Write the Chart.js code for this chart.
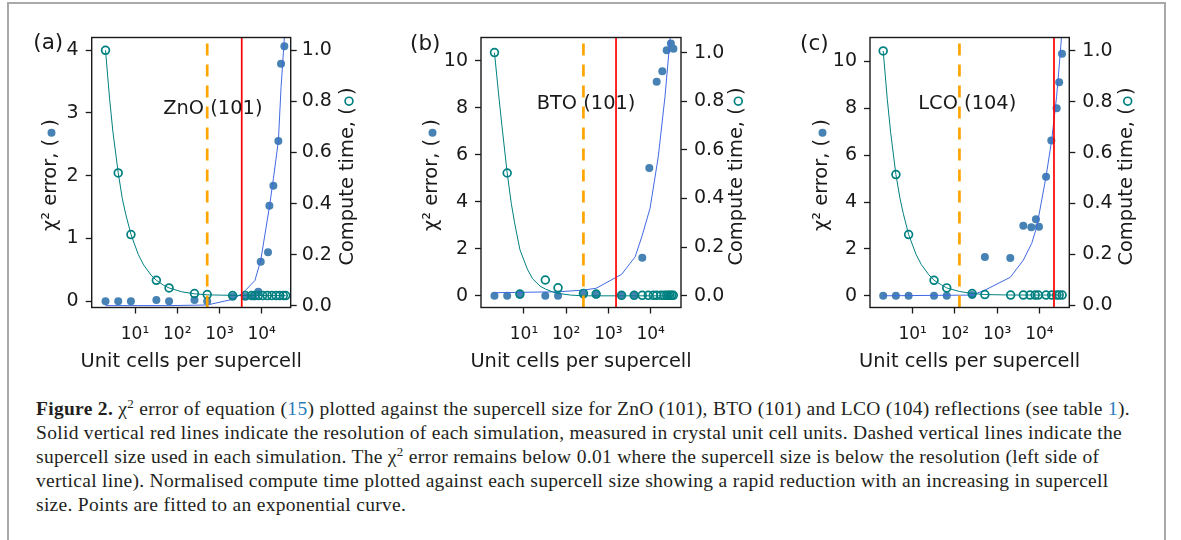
<!DOCTYPE html>
<html>
<head>
<meta charset="utf-8">
<script src="https://cdn.jsdelivr.net/npm/chart.js"></script>
<style>
  body { margin: 0; background: #fff; }
  #page { position: relative; width: 1181px; height: 540px; overflow: hidden; background: #fff; }
  #box { position: absolute; left: 7px; top: 2px; width: 1155px; height: 600px; border: 2px solid #a9a9a9; }
  canvas { position: absolute; top: 0; }
  #caption { position: absolute; left: 36px; top: 397px; font-family: 'Liberation Serif', serif; font-size: 19.5px; letter-spacing: 0.3px; line-height: 24px; color: #231f20; white-space: nowrap; }
  #caption sup { font-size: 13px; line-height: 0; }
  #caption .ref { color: #2b7bbd; }
</style>
</head>
<body>
<div id="page">
  <div id="box"></div>
  <canvas id="chartA"></canvas>
  <canvas id="chartB"></canvas>
  <canvas id="chartC"></canvas>
  <div id="caption">
    <b>Figure 2.</b> χ<sup>2</sup> error of equation (<span class="ref">15</span>) plotted against the supercell size for ZnO (101), BTO (101) and LCO (104) reflections (see table <span class="ref">1</span>).<br>
    Solid vertical red lines indicate the resolution of each simulation, measured in crystal unit cell units. Dashed vertical lines indicate the<br>
    supercell size used in each simulation. The χ<sup>2</sup> error remains below 0.01 where the supercell size is below the resolution (left side of<br>
    vertical line). Normalised compute time plotted against each supercell size showing a rapid reduction with an increasing in supercell<br>
    size. Points are fitted to an exponential curve.
  </div>
</div>
<script>
// axis ticks
const xTicks = [10, 100, 1000, 10000];
const xTickLabels = ['10¹', '10²', '10³', '10⁴'];
const timeTicks = [0, 0.2, 0.4, 0.6, 0.8, 1.0];
const chiTicksA = [0, 1, 2, 3, 4];
const chiTicksBC = [0, 2, 4, 6, 8, 10];

// (a) ZnO (101)
const chiSizesA = [2, 4, 8, 32, 64, 256, 512, 2048, 4096, 6300, 8300, 9480, 14100, 15200, 18900, 24800, 28700, 34400];
const chiA = [0.0, 0.0, 0.0, 0.02, 0.0, 0.02, 0.0, 0.07, 0.07, 0.08, 0.15, 0.63, 0.78, 1.52, 1.84, 2.55, 3.78, 4.06];
const timeSizesA = [2, 4, 8, 32, 64, 256, 512, 2048, 4096, 5760, 6920, 8300, 10500, 13500, 17400, 21900, 26900, 32400, 37000];
const timeA = [1.0, 0.52, 0.279, 0.10, 0.070, 0.048, 0.044, 0.040, 0.040, 0.040, 0.040, 0.040, 0.040, 0.040, 0.040, 0.040, 0.040, 0.040, 0.040];
const chiFitSizesA = [2, 64, 512, 2048, 3400, 4096, 6900, 9480, 15200, 18900, 24800, 28700, 34400];
const chiFitA = [-0.07, -0.07, -0.06, 0.03, 0.12, 0.17, 0.33, 0.65, 1.5, 1.95, 2.55, 3.4, 4.2];
const timeFitSizesA = [2, 2.5, 3, 4, 5, 6, 8, 12, 16, 24, 32, 48, 64, 128, 256, 512, 2048, 37000];
const timeFitA = [1.0, 0.81, 0.68, 0.52, 0.42, 0.36, 0.28, 0.20, 0.16, 0.12, 0.10, 0.08, 0.07, 0.055, 0.047, 0.043, 0.041, 0.040];

// (b) BTO (101)
const chiSizesB = [2, 4, 8, 32, 64, 256, 512, 2048, 4096, 6340, 9300, 13900, 18900, 24000, 30200, 34700];
const chiB = [0.0, 0.0, 0.04, 0.0, 0.0, 0.05, 0.05, 0.03, 0.03, 1.62, 5.44, 9.11, 9.56, 10.46, 10.74, 10.52];
const timeSizesB = [2, 4, 8, 32, 64, 256, 512, 2048, 4070, 6340, 8800, 11600, 13900, 17600, 21000, 24000, 26200, 28700, 31600, 34400];
const timeB = [1.0, 0.505, 0.007, 0.065, 0.033, 0.01, 0.007, 0.002, 0.002, 0.002, 0.002, 0.002, 0.002, 0.002, 0.002, 0.002, 0.002, 0.002, 0.002, 0.002];
const chiFitSizesB = [2, 64, 256, 512, 2048, 4300, 6200, 9700, 15200, 21900, 28700, 34400];
const chiFitB = [0.13, 0.17, 0.24, 0.32, 0.91, 1.66, 2.52, 3.73, 5.93, 8.49, 10.9, 12.5];
const timeFitSizesB = [2, 2.5, 3, 4, 5, 6, 8, 12, 16, 24, 32, 48, 64, 128, 256, 34400];
const timeFitB = [1.0, 0.83, 0.70, 0.505, 0.38, 0.30, 0.19, 0.11, 0.07, 0.04, 0.028, 0.016, 0.01, 0.003, 0.0, 0.0];

// (c) LCO (104)
const chiSizesC = [2, 4, 8, 32, 64, 256, 512, 2048, 4170, 6450, 8300, 9800, 14400, 19200, 25700, 29500, 34400];
const chiC = [0.0, 0.0, 0.0, 0.0, 0.0, 0.03, 1.66, 1.61, 2.99, 2.92, 3.27, 2.95, 5.08, 6.63, 8.0, 9.11, 10.33];
const timeSizesC = [2, 4, 8, 32, 64, 256, 512, 2090, 4170, 6030, 7940, 9450, 14400, 19600, 25600, 29500, 34600];
const timeC = [1.0, 0.514, 0.278, 0.098, 0.068, 0.046, 0.042, 0.040, 0.040, 0.040, 0.040, 0.040, 0.040, 0.040, 0.040, 0.040, 0.040];
const chiFitSizesC = [2, 256, 512, 2048, 4170, 6600, 8700, 14400, 19600, 25600, 30800, 36000];
const chiFitC = [0.0, 0.03, 0.24, 0.79, 1.52, 2.24, 2.95, 5.08, 6.65, 8.49, 10.2, 11.8];
const timeFitSizesC = [2, 2.5, 3, 4, 5, 6, 8, 12, 16, 24, 32, 48, 64, 128, 256, 512, 2048, 34600];
const timeFitC = [1.0, 0.81, 0.68, 0.514, 0.42, 0.36, 0.278, 0.20, 0.16, 0.12, 0.098, 0.08, 0.068, 0.054, 0.046, 0.042, 0.040, 0.040];

// supercell size used (dashed) and resolution (red), unit cells
const supercellUsed = [512, 256, 128];
const resolution = [3365, 1515, 22200];

const BLUE = '#4682b4';
const FIT_BLUE = '#4169e1';
const TEAL = '#008080';
const INK = '#1a1a1a';

const xTitle = 'Unit cells per supercell';
const chiTitle = 'χ² error, (  )';
const timeTitle = 'Compute time, (  )';

function toXY (xs, ys) {
  return xs.map((x, i) => ({ x: x, y: ys[i] }));
}

function yTitle (ctx, text, cx, cy, marker) {
  ctx.save();
  ctx.translate(cx, cy);
  ctx.rotate(-Math.PI / 2);
  ctx.textAlign = 'center';
  ctx.textBaseline = 'middle';
  ctx.fillStyle = INK;
  ctx.fillText(text, 0, 0);
  const w = ctx.measureText(text).width;
  const u = w / 2 - ctx.measureText(')').width - ctx.measureText('  ').width / 2;
  ctx.beginPath();
  if (marker === 'dot') {
    ctx.fillStyle = BLUE;
    ctx.arc(u, 1, 4, 0, Math.PI * 2);
    ctx.fill();
  } else {
    ctx.strokeStyle = TEAL;
    ctx.lineWidth = 1.7;
    ctx.arc(u, 1, 3.9, 0, Math.PI * 2);
    ctx.stroke();
  }
  ctx.restore();
}

const decor = {
  id: 'decor',
  afterDatasetsDraw (chart, args, o) {
    const { ctx, chartArea: a } = chart;
    const x = chart.scales.x;
    ctx.save();
    ctx.beginPath();
    ctx.rect(a.left, a.top, a.right - a.left, a.bottom - a.top);
    ctx.clip();
    let px = x.getPixelForValue(o.supercell);
    ctx.strokeStyle = '#ffa500';
    ctx.lineWidth = 2.7;
    ctx.setLineDash([12, 9]);
    ctx.beginPath();
    ctx.moveTo(px, a.bottom);
    ctx.lineTo(px, a.top);
    ctx.stroke();
    px = x.getPixelForValue(o.resolution);
    ctx.setLineDash([]);
    ctx.strokeStyle = '#ff0000';
    ctx.lineWidth = 1.7;
    ctx.beginPath();
    ctx.moveTo(px, a.bottom);
    ctx.lineTo(px, a.top);
    ctx.stroke();
    ctx.restore();
  },
  afterDraw (chart, args, o) {
    const { ctx, chartArea: a } = chart;
    ctx.save();
    ctx.strokeStyle = INK;
    ctx.lineWidth = 1.4;
    ctx.strokeRect(a.left, a.top, a.right - a.left, a.bottom - a.top);
    ctx.fillStyle = INK;
    ctx.textBaseline = 'alphabetic';
    ctx.textAlign = 'left';
    ctx.font = '19.4px "DejaVu Sans"';
    ctx.fillText(o.name, a.left + o.nameDx, a.top + o.nameDy);
    ctx.font = '21.5px "DejaVu Sans"';
    ctx.fillText(o.label, a.left + o.labelDx, o.labelY);
    ctx.font = '19.4px "DejaVu Sans"';
    ctx.textAlign = 'center';
    ctx.fillText(xTitle, (a.left + a.right) / 2, a.bottom + 59);
    const midY = (a.top + a.bottom) / 2;
    yTitle(ctx, chiTitle, a.left - o.leftDx, midY + 2.5, 'dot');
    yTitle(ctx, timeTitle, a.right + o.rightDx, midY + 4, 'ring');
    ctx.restore();
  }
};

function createPanel (id, p) {
  const canvas = document.getElementById(id);
  const width = 360;
  const height = 380;
  const left = Math.floor(p.area.left - 85);
  canvas.width = width;
  canvas.height = height;
  canvas.style.left = left + 'px';
  const leftW = p.area.left - left;
  const rightW = left + width - p.area.right;
  const tickFont = { family: 'DejaVu Sans', size: 19 };
  return new Chart(canvas, {
    type: 'scatter',
    data: {
      datasets: [
        { data: toXY(p.chiSizes, p.chi), yAxisID: 'y', backgroundColor: BLUE, borderColor: BLUE, pointRadius: 4, pointBorderWidth: 0, order: 4 },
        { data: toXY(p.chiFitSizes, p.chiFit), yAxisID: 'y', showLine: true, borderColor: FIT_BLUE, borderWidth: 1, pointRadius: 0, order: 3 },
        { data: toXY(p.timeFitSizes, p.timeFit), yAxisID: 'y1', showLine: true, borderColor: TEAL, borderWidth: 1, pointRadius: 0, order: 2 },
        { data: toXY(p.timeSizes, p.time), yAxisID: 'y1', backgroundColor: 'rgba(0,0,0,0)', borderColor: TEAL, pointRadius: 3.9, pointBorderWidth: 1.7, order: 1 }
      ]
    },
    options: {
      responsive: false,
      animation: false,
      devicePixelRatio: 1,
      layout: { padding: { top: 37.5, left: 0, right: 0, bottom: 0 } },
      plugins: {
        legend: { display: false },
        tooltip: { enabled: false },
        decor: p.decor
      },
      scales: {
        x: {
          type: 'logarithmic',
          position: 'bottom',
          min: p.xMin,
          max: p.xMax,
          afterBuildTicks: s => { s.ticks = xTicks.map(v => ({ value: v })); },
          afterFit: s => { s.height = height - 307.5; },
          ticks: {
            callback: (v, i) => xTickLabels[i],
            font: { family: 'DejaVu Sans', size: 17 },
            color: INK,
            padding: 11,
            autoSkip: false,
            maxRotation: 0
          },
          grid: { drawOnChartArea: false, tickLength: 6, tickWidth: 1.3, tickColor: INK },
          border: { display: false }
        },
        y: {
          position: 'left',
          min: p.yMin,
          max: p.yMax,
          afterBuildTicks: s => { s.ticks = p.chiTicks.map(v => ({ value: v })); },
          afterFit: s => { s.width = leftW; },
          ticks: { callback: v => String(v), font: tickFont, color: INK, padding: 7 },
          grid: { drawOnChartArea: false, tickLength: 6, tickWidth: 1.3, tickColor: INK },
          border: { display: false }
        },
        y1: {
          position: 'right',
          min: p.tMin,
          max: p.tMax,
          afterBuildTicks: s => { s.ticks = timeTicks.map(v => ({ value: v })); },
          afterFit: s => { s.width = rightW; },
          ticks: { callback: v => v.toFixed(1), font: tickFont, color: INK, padding: p.rightPad },
          grid: { drawOnChartArea: false, tickLength: 6, tickWidth: 1.3, tickColor: INK },
          border: { display: false }
        }
      }
    },
    plugins: [decor]
  });
}

createPanel('chartA', {
  area: { left: 91.7, right: 290.7 }, rightPad: 5,
  xMin: 0.942, xMax: 48600, yMin: -0.1, yMax: 4.2, tMin: -0.0065, tMax: 1.05,
  chiTicks: chiTicksA,
  chiSizes: chiSizesA, chi: chiA, timeSizes: timeSizesA, time: timeA,
  chiFitSizes: chiFitSizesA, chiFit: chiFitA, timeFitSizes: timeFitSizesA, timeFit: timeFitA,
  decor: { supercell: supercellUsed[0], resolution: resolution[0], name: 'ZnO (101)', nameDx: 71.6, nameDy: 76, label: '(a)', labelDx: -58.4, labelY: 48.5, leftDx: 41.2, rightDx: 57.3 }
});

createPanel('chartB', {
  area: { left: 481, right: 681 }, rightPad: 7,
  xMin: 0.959, xMax: 52400, yMin: -0.5, yMax: 11.0, tMin: -0.048, tMax: 1.062,
  chiTicks: chiTicksBC,
  chiSizes: chiSizesB, chi: chiB, timeSizes: timeSizesB, time: timeB,
  chiFitSizes: chiFitSizesB, chiFit: chiFitB, timeFitSizes: timeFitSizesB, timeFit: timeFitB,
  decor: { supercell: supercellUsed[1], resolution: resolution[1], name: 'BTO (101)', nameDx: 55.7, nameDy: 71, label: '(b)', labelDx: -71, labelY: 50, leftDx: 49.5, rightDx: 56.3 }
});

createPanel('chartC', {
  area: { left: 870, right: 1069.3 }, rightPad: 7,
  xMin: 0.974, xMax: 51200, yMin: -0.5, yMax: 11.02, tMin: -0.009, tMax: 1.053,
  chiTicks: chiTicksBC,
  chiSizes: chiSizesC, chi: chiC, timeSizes: timeSizesC, time: timeC,
  chiFitSizes: chiFitSizesC, chiFit: chiFitC, timeFitSizes: timeFitSizesC, timeFit: timeFitC,
  decor: { supercell: supercellUsed[2], resolution: resolution[2], name: 'LCO (104)', nameDx: 48.3, nameDy: 71, label: '(c)', labelDx: -70, labelY: 50, leftDx: 48.5, rightDx: 57.4 }
});
</script>
</body>
</html>
